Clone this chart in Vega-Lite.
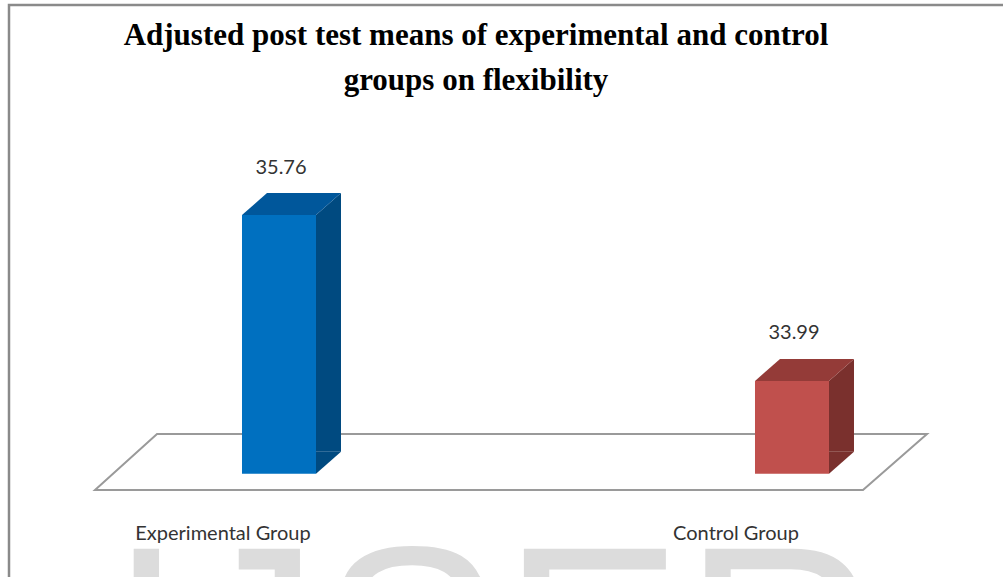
{
  "$schema": "https://vega.github.io/schema/vega-lite/v6.json",
  "width": 1010,
  "height": 586,
  "autosize": {"type": "none"},
  "padding": {"left": 9, "top": 5, "right": -16, "bottom": -14},
  "background": "white",
  "config": {"view": {"stroke": "#8a8a8a", "strokeWidth": 2.5, "fill": "white"}},
  "title": {
    "text": ["Adjusted post test means of experimental and control", "groups on flexibility"],
    "font": "Liberation Serif",
    "fontWeight": "bold",
    "fontSize": 31,
    "color": "#000000",
    "lineHeight": 45,
    "anchor": "middle",
    "dx": -38,
    "offset": -92
  },
  "data": {"values": [
    {"group": "Experimental Group", "value": 35.76},
    {"group": "Control Group", "value": 33.99}
  ]},
  "layer": [
    {
      "data": {"values": [{}]},
      "mark": {"type": "text", "text": "IJSER", "font": "Liberation Sans", "fontSize": 272, "color": "#dcdcdc", "baseline": "alphabetic", "align": "center", "dx": -20, "dy": 438}
    },
    {
      "data": {"values": [{}]},
      "mark": {"type": "point", "filled": false, "opacity": 1, "fill": "white", "fillOpacity": 1, "stroke": "#9a9a9a", "strokeWidth": 2, "size": 702244,
        "shape": "M-0.8520,-0.0950L0.9857,-0.0950L0.8329,0.0387L-1,0.0387Z"},
      "encoding": {
        "y": {"datum": 33, "type": "quantitative", "scale": {"domain": [31.75, 38], "zero": false, "nice": false}, "axis": null}
      }
    },
    {
      "mark": {"type": "bar", "width": 25, "xOffset": 49.5, "y2Offset": -22, "opacity": 1},
      "encoding": {
        "x": {"field": "group", "type": "nominal", "sort": null, "scale": {"paddingInner": 0.8, "paddingOuter": 0.38441, "align": 0.5545},
          "axis": {"orient": "bottom", "offset": -68, "ticks": false, "domain": false, "grid": false, "labelPadding": 0, "labelFont": "Lato", "labelFontSize": 20, "labelColor": "#333333", "labelOffset": -56, "labelAngle": 0, "labelLimit": 400, "title": null, "zindex": 1}},
        "y": {"field": "value", "type": "quantitative", "scale": {"domain": [31.75, 38], "zero": false, "nice": false}, "axis": null},
        "y2": {"datum": 33},
        "color": {"condition": {"test": "datum.group === 'Control Group'", "value": "#7a302d"}, "value": "#004a80"}
      }
    },
    {
      "mark": {"type": "point", "filled": true, "opacity": 1, "strokeWidth": 0, "size": 15376, "shape": "M0.5968,0L0.5968,-0.3548L1,-0.3548Z"},
      "encoding": {
        "x": {"field": "group", "type": "nominal", "sort": null, "scale": {"paddingInner": 0.8, "paddingOuter": 0.38441, "align": 0.5545},
          "axis": {"orient": "bottom", "offset": -68, "ticks": false, "domain": false, "grid": false, "labelPadding": 0, "labelFont": "Lato", "labelFontSize": 20, "labelColor": "#333333", "labelOffset": -56, "labelAngle": 0, "labelLimit": 400, "title": null, "zindex": 1}},
        "y": {"datum": 33, "type": "quantitative", "scale": {"domain": [31.75, 38], "zero": false, "nice": false}, "axis": null},
        "color": {"condition": {"test": "datum.group === 'Control Group'", "value": "#7a302d"}, "value": "#004a80"}
      }
    },
    {
      "mark": {"type": "bar", "width": 74, "opacity": 1},
      "encoding": {
        "x": {"field": "group", "type": "nominal", "sort": null, "scale": {"paddingInner": 0.8, "paddingOuter": 0.38441, "align": 0.5545},
          "axis": {"orient": "bottom", "offset": -68, "ticks": false, "domain": false, "grid": false, "labelPadding": 0, "labelFont": "Lato", "labelFontSize": 20, "labelColor": "#333333", "labelOffset": -56, "labelAngle": 0, "labelLimit": 400, "title": null, "zindex": 1}},
        "y": {"field": "value", "type": "quantitative", "scale": {"domain": [31.75, 38], "zero": false, "nice": false}, "axis": null},
        "y2": {"datum": 33},
        "color": {"condition": {"test": "datum.group === 'Control Group'", "value": "#c0504d"}, "value": "#0070c0"}
      }
    },
    {
      "mark": {"type": "point", "filled": true, "opacity": 1, "strokeWidth": 0, "size": 15376, "shape": "M0.5968,0L1,-0.3548L1,0Z"},
      "encoding": {
        "x": {"field": "group", "type": "nominal", "sort": null, "scale": {"paddingInner": 0.8, "paddingOuter": 0.38441, "align": 0.5545},
          "axis": {"orient": "bottom", "offset": -68, "ticks": false, "domain": false, "grid": false, "labelPadding": 0, "labelFont": "Lato", "labelFontSize": 20, "labelColor": "#333333", "labelOffset": -56, "labelAngle": 0, "labelLimit": 400, "title": null, "zindex": 1}},
        "y": {"field": "value", "type": "quantitative", "scale": {"domain": [31.75, 38], "zero": false, "nice": false}, "axis": null},
        "color": {"condition": {"test": "datum.group === 'Control Group'", "value": "#7a302d"}, "value": "#004a80"}
      }
    },
    {
      "mark": {"type": "point", "filled": true, "opacity": 1, "strokeWidth": 0, "size": 15376, "shape": "M-0.5968,0L0.5968,0L1,-0.3548L-0.1935,-0.3548Z"},
      "encoding": {
        "x": {"field": "group", "type": "nominal", "sort": null, "scale": {"paddingInner": 0.8, "paddingOuter": 0.38441, "align": 0.5545},
          "axis": {"orient": "bottom", "offset": -68, "ticks": false, "domain": false, "grid": false, "labelPadding": 0, "labelFont": "Lato", "labelFontSize": 20, "labelColor": "#333333", "labelOffset": -56, "labelAngle": 0, "labelLimit": 400, "title": null, "zindex": 1}},
        "y": {"field": "value", "type": "quantitative", "scale": {"domain": [31.75, 38], "zero": false, "nice": false}, "axis": null},
        "color": {"condition": {"test": "datum.group === 'Control Group'", "value": "#943b38"}, "value": "#00579b"}
      }
    },
    {
      "mark": {"type": "text", "font": "Lato", "fontSize": 20, "color": "#333333", "baseline": "middle", "align": "center", "dx": 2, "dy": -47.5},
      "encoding": {
        "x": {"field": "group", "type": "nominal", "sort": null, "scale": {"paddingInner": 0.8, "paddingOuter": 0.38441, "align": 0.5545},
          "axis": {"orient": "bottom", "offset": -68, "ticks": false, "domain": false, "grid": false, "labelPadding": 0, "labelFont": "Lato", "labelFontSize": 20, "labelColor": "#333333", "labelOffset": -56, "labelAngle": 0, "labelLimit": 400, "title": null, "zindex": 1}},
        "y": {"field": "value", "type": "quantitative", "scale": {"domain": [31.75, 38], "zero": false, "nice": false}, "axis": null},
        "text": {"field": "value", "type": "quantitative", "format": ".2f"}
      }
    }
  ]
}
